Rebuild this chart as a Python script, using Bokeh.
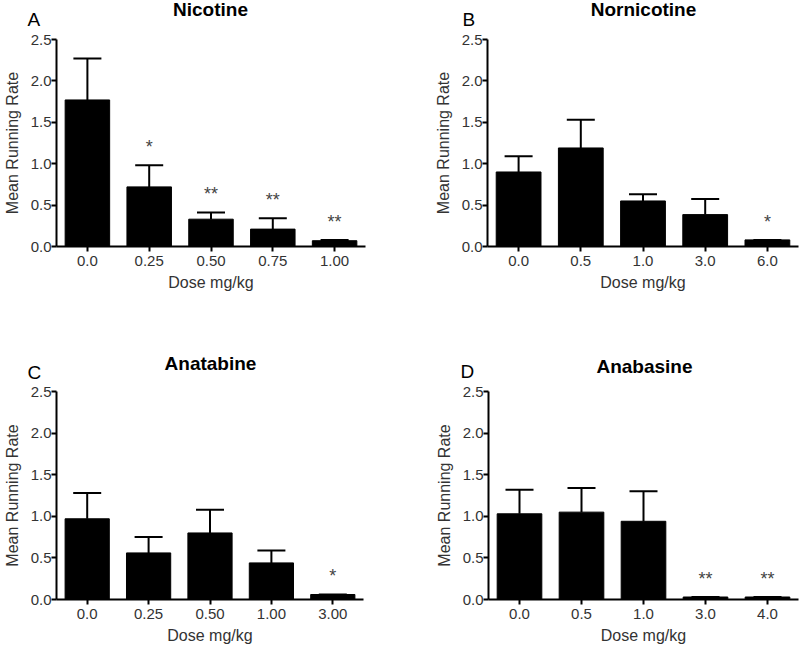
from bokeh.plotting import figure
from bokeh.layouts import column, row
from bokeh.models import (ColumnDataSource, Range1d, FactorRange, FixedTicker,
                          Whisker, TeeHead, PrintfTickFormatter)
from bokeh.core.properties import value
from bokeh.embed import file_html
from bokeh.resources import INLINE

FONT = "Liberation Sans"

# ---- data ----
nic_doses = ["0.0", "0.25", "0.50", "0.75", "1.00"]
nic_mean = [1.77, 0.72, 0.33, 0.21, 0.07]
nic_err = [0.50, 0.26, 0.08, 0.13, 0.01]
nic_sig = ["", "*", "**", "**", "**"]

nor_doses = ["0.0", "0.5", "1.0", "3.0", "6.0"]
nor_mean = [0.90, 1.19, 0.55, 0.385, 0.08]
nor_err = [0.19, 0.34, 0.08, 0.19, 0.0]
nor_sig = ["", "", "", "", "*"]

ant_doses = ["0.0", "0.25", "0.50", "1.00", "3.00"]
ant_mean = [0.97, 0.56, 0.80, 0.44, 0.06]
ant_err = [0.31, 0.19, 0.28, 0.15, 0.0]
ant_sig = ["", "", "", "", "*"]

ana_doses = ["0.0", "0.5", "1.0", "3.0", "4.0"]
ana_mean = [1.03, 1.05, 0.94, 0.03, 0.03]
ana_err = [0.29, 0.29, 0.36, 0.0, 0.0]
ana_sig = ["", "", "", "**", "**"]

y_ticks = [0.0, 0.5, 1.0, 1.5, 2.0, 2.5]

# panel headings
row1_letters = ["A", "B"]
row1_titles = ["Nicotine", "Nornicotine"]
row2_letters = ["C", "D"]
row2_titles = ["Anatabine", "Anabasine"]

STAR_GAP = 0.22  # gap (data units) between error-bar top and asterisk baseline


def panel(doses, means, errs, sig, width, height,
          mb_left, mb_right, mb_top, mb_bottom):
    uppers = [m + e for m, e in zip(means, errs)]
    star_y = [u + STAR_GAP for u in uppers]
    src = ColumnDataSource(dict(dose=doses, mean=means, upper=uppers,
                                star_y=star_y, sig=sig))
    p = figure(x_range=FactorRange(*doses), y_range=Range1d(0, 2.5),
               width=width, height=height, output_backend="svg",
               toolbar_location=None, title=None,
               min_border_left=mb_left, min_border_right=mb_right,
               min_border_top=mb_top, min_border_bottom=mb_bottom)
    p.vbar(x="dose", top="mean", width=0.72, source=src,
           fill_color="black", line_color="black")
    p.add_layout(Whisker(base="dose", lower="mean", upper="upper", source=src,
                         line_width=2, line_color="black", lower_head=None,
                         upper_head=TeeHead(size=28, line_width=2,
                                            line_color="black")))
    p.text(x="dose", y="star_y", text="sig", source=src, text_align="center",
           text_baseline="alphabetic", text_font=value(FONT),
           text_font_size="18px", text_color="#444444")

    p.xgrid.visible = False
    p.ygrid.visible = False
    p.outline_line_color = None

    for ax in (p.xaxis[0], p.yaxis[0]):
        ax.axis_line_width = 2
        ax.axis_line_color = "black"
        ax.major_tick_line_width = 2
        ax.major_tick_line_color = "black"
        ax.major_tick_in = 0
        ax.major_tick_out = 5
        ax.minor_tick_line_color = None
        ax.major_label_text_font = FONT
        ax.major_label_text_font_size = "15px"
        ax.major_label_text_color = "#333333"
        ax.axis_label_text_font = FONT
        ax.axis_label_text_font_size = "16px"
        ax.axis_label_text_font_style = "normal"
        ax.axis_label_text_color = "#333333"
    p.yaxis.major_label_standoff = 0
    p.yaxis.axis_label_standoff = 7
    p.xaxis.major_label_standoff = 4
    p.xaxis.axis_label_standoff = 5

    p.xaxis.axis_label = "Dose mg/kg"
    p.yaxis.axis_label = "Mean Running Rate"
    p.yaxis.ticker = FixedTicker(ticks=y_ticks)
    p.yaxis.formatter = PrintfTickFormatter(format="%.1f")
    return p


def header(height, letters, letter_x, letter_y, titles, title_x, title_y):
    h = figure(width=800, height=height, x_range=Range1d(0, 800),
               y_range=Range1d(height, 0), output_backend="svg",
               toolbar_location=None, title=None, min_border=0,
               x_axis_location=None, y_axis_location=None)
    h.grid.visible = False
    h.outline_line_color = None
    h.text(x=letter_x, y=letter_y, text=letters, text_align="left",
           text_baseline="alphabetic", text_font=value(FONT),
           text_font_size="19px", text_color="black")
    h.text(x=title_x, y=title_y, text=titles, text_align="center",
           text_baseline="alphabetic", text_font=value(FONT),
           text_font_size="19px", text_font_style="bold", text_color="black")
    return h


h1 = header(30, row1_letters, [27, 462], [19, 19],
            row1_titles, [210, 643], [9, 9])
pA = panel(nic_doses, nic_mean, nic_err, nic_sig, 400, 280, 52, 35, 9, 64)
pB = panel(nor_doses, nor_mean, nor_err, nor_sig, 400, 280, 87, 2, 9, 64)

h2 = header(74, row2_letters, [27, 460], [62, 61],
            row2_titles, [210, 644], [53, 56])
pC = panel(ant_doses, ant_mean, ant_err, ant_sig, 400, 266, 52, 37, 7, 51)
pD = panel(ana_doses, ana_mean, ana_err, ana_sig, 400, 266, 88, 2, 7, 51)

layout = column(h1, row(pA, pB), h2, row(pC, pD))

with open("out.html", "w") as f:
    f.write(file_html(layout, INLINE))
